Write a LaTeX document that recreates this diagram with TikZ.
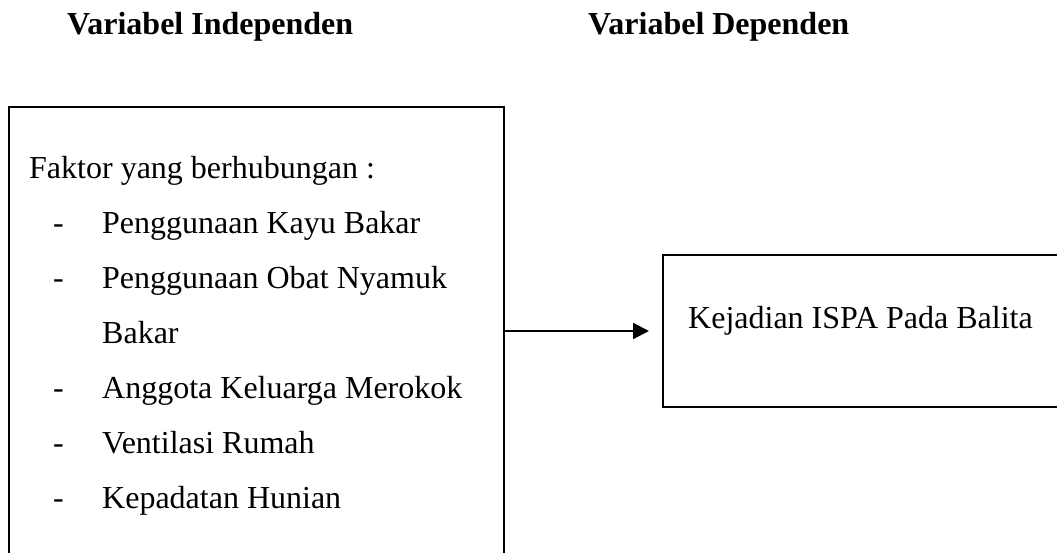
\documentclass[tikz,border=0pt]{standalone}
\usepackage{fontspec}
\setmainfont{Liberation Serif}
\usetikzlibrary{arrows.meta}
\begin{document}
\begin{tikzpicture}[x=1pt,y=1pt,
  txt/.style={anchor=base west,inner sep=0pt,font=\fontsize{32}{38}\selectfont},
  ttl/.style={txt,font=\fontsize{32}{38}\selectfont\bfseries},
  boxframe/.style={draw,line width=2pt,inner sep=0pt,anchor=north west},
  link/.style={line width=2pt,-{Triangle[length=16pt,width=16pt]},shorten >=13pt}]
\useasboundingbox (0,0) rectangle (1057,-553);
\clip (0,0) rectangle (1057,-553);
\node[ttl] (t1) at (67,-35) {Variabel Independen};
\node[ttl] (t2) at (588,-35) {Variabel Dependen};
\node[boxframe,minimum width=495pt,minimum height=520pt] (lbox) at (8,-106) {};
\node[boxframe,minimum width=450pt,minimum height=152pt] (rbox) at (662,-254) {};
\node[txt] (f) at (29,-179) {Faktor yang berhubungan :};
\foreach \n/\y/\d/\t in {a/233.5/1/Penggunaan Kayu Bakar,b/288.4/1/Penggunaan Obat Nyamuk,c/343.3/0/Bakar,d/398.2/1/Anggota Keluarga Merokok,e/453.1/1/Ventilasi Rumah,g/508/1/Kepadatan Hunian}{
  \node[txt] (i\n) at (102,-\y) {\t};
  \ifnum\d=1 \node[txt] (d\n) at (53,-\y) {-};\fi
}
\node[txt] (k) at (688,-328) {Kejadian ISPA Pada Balita};
\draw[link] (lbox.east |- rbox.west) -- (rbox.west);
\end{tikzpicture}
\end{document}
